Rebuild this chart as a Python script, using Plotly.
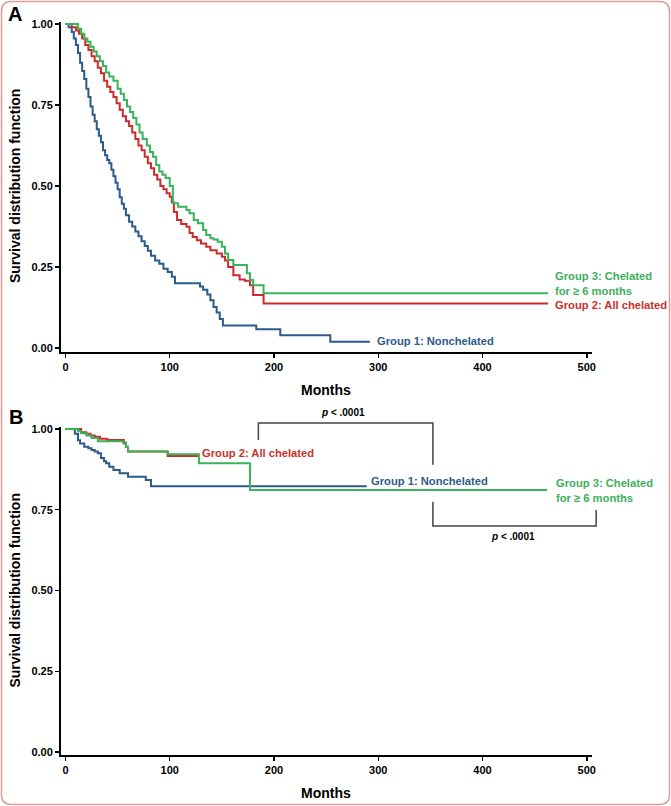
import plotly.graph_objects as go

# ---------------- data ----------------
# Panel A
a_blue_t = [0, 3, 6, 8, 10, 12, 14, 16, 18, 20, 22, 24, 26, 28, 30, 32, 34, 36, 38, 40, 42, 44, 46, 48, 50,
            52, 54, 56, 58, 61, 64, 67, 70, 73, 76, 79, 82, 86, 90, 94, 98, 102, 105, 129, 132, 136, 139,
            142, 145, 148, 151, 183, 206, 254, 292]
a_blue_s = [1.0, 0.99, 0.975, 0.955, 0.935, 0.91, 0.88, 0.855, 0.83, 0.80, 0.775, 0.745, 0.72, 0.70, 0.675,
            0.655, 0.635, 0.61, 0.595, 0.58, 0.57, 0.55, 0.53, 0.51, 0.49, 0.465, 0.445, 0.43, 0.41, 0.39,
            0.375, 0.36, 0.345, 0.33, 0.315, 0.30, 0.285, 0.27, 0.26, 0.245, 0.235, 0.22, 0.20, 0.19, 0.18,
            0.165, 0.148, 0.127, 0.11, 0.09, 0.07, 0.058, 0.04, 0.02, 0.02]

a_red_t = [0, 6, 10, 13, 16, 19, 22, 25, 28, 31, 34, 37, 40, 43, 46, 49, 52, 55, 58, 61, 64, 67, 70, 73, 76,
           79, 82, 85, 88, 91, 94, 97, 100, 102, 104, 107, 111, 116, 119, 122, 126, 130, 135, 139, 145, 150,
           153, 156, 161, 167, 172, 177, 180, 190, 463]
a_red_s = [1.0, 0.99, 0.98, 0.97, 0.955, 0.935, 0.92, 0.90, 0.885, 0.865, 0.848, 0.825, 0.806, 0.79, 0.775,
           0.755, 0.735, 0.715, 0.70, 0.685, 0.665, 0.645, 0.625, 0.61, 0.59, 0.57, 0.555, 0.535, 0.52, 0.50,
           0.49, 0.478, 0.467, 0.45, 0.42, 0.395, 0.383, 0.374, 0.355, 0.343, 0.333, 0.323, 0.313, 0.302,
           0.292, 0.282, 0.27, 0.25, 0.225, 0.212, 0.208, 0.194, 0.164, 0.138, 0.138]

a_green_t = [0, 12, 15, 18, 21, 24, 27, 30, 33, 36, 39, 42, 46, 50, 53, 56, 59, 62, 65, 68, 71, 74, 78, 81,
             84, 87, 90, 93, 96, 100, 103, 108, 116, 119, 123, 127, 132, 135, 139, 142, 146, 150, 153, 156,
             161, 174, 177, 180, 190, 463]
a_green_s = [1.0, 0.985, 0.97, 0.955, 0.945, 0.93, 0.915, 0.90, 0.885, 0.87, 0.85, 0.838, 0.825, 0.80, 0.785,
             0.765, 0.745, 0.728, 0.71, 0.69, 0.665, 0.645, 0.625, 0.605, 0.59, 0.565, 0.545, 0.535, 0.525,
             0.50, 0.447, 0.436, 0.426, 0.416, 0.395, 0.385, 0.364, 0.349, 0.339, 0.335, 0.328, 0.313, 0.292,
             0.272, 0.256, 0.231, 0.21, 0.194, 0.169, 0.169]

# Panel B
b_blue_t = [0, 9, 12, 14, 18, 22, 25, 28, 31, 34, 37, 39, 42, 46, 52, 60, 77, 82, 289]
b_blue_s = [1.0, 0.985, 0.965, 0.955, 0.945, 0.94, 0.935, 0.93, 0.925, 0.91, 0.90, 0.894, 0.883, 0.873,
            0.863, 0.852, 0.842, 0.823, 0.823]

b_red_t = [0, 15, 20, 24, 28, 33, 40, 56, 58, 60, 98, 127]
b_red_s = [1.0, 0.99, 0.985, 0.98, 0.976, 0.97, 0.966, 0.955, 0.945, 0.93, 0.916, 0.916]

b_green_t = [0, 12, 15, 20, 25, 31, 55, 58, 60, 98, 128, 177, 462]
b_green_s = [1.0, 0.993, 0.987, 0.98, 0.972, 0.962, 0.958, 0.945, 0.93, 0.922, 0.894, 0.811, 0.811]

x_ticks = [0, 100, 200, 300, 400, 500]
y_ticks = [0.0, 0.25, 0.5, 0.75, 1.0]

for t, s in [(a_blue_t, a_blue_s), (a_red_t, a_red_s), (a_green_t, a_green_s),
             (b_blue_t, b_blue_s), (b_red_t, b_red_s), (b_green_t, b_green_s)]:
    assert len(t) == len(s)

# ---------------- style ----------------
BLUE, RED, GREEN = "#2c5a8c", "#cc2b2b", "#3ab35a"
BLUE_T, RED_T, GREEN_T = "#2e5c8a", "#c9302c", "#3cb05a"
FONT = "Liberation Sans, Arial, Helvetica, sans-serif"
W, H = 671, 806
ML, MR, MT, MB = 61, 79, 22, 51
XR = [-4.3, 505]
YRA = [-0.012, 1.006]
YRB = [-0.009, 1.006]

fig = go.Figure()

def add_curve(t, s, color, xa, ya):
    fig.add_trace(go.Scatter(x=t, y=s, mode="lines", line=dict(color=color, width=2, shape="hv"),
                             xaxis=xa, yaxis=ya, hoverinfo="skip"))

add_curve(a_blue_t, a_blue_s, BLUE, "x", "y")
add_curve(a_red_t, a_red_s, RED, "x", "y")
add_curve(a_green_t, a_green_s, GREEN, "x", "y")
add_curve(b_blue_t, b_blue_s, BLUE, "x2", "y2")
add_curve(b_red_t, b_red_s, RED, "x2", "y2")
add_curve(b_green_t, b_green_s, GREEN, "x2", "y2")

tickfont = dict(family=FONT, size=11, color="black", weight="bold")
xax = dict(range=XR, tickvals=x_ticks, showline=True, linewidth=2, linecolor="black", ticks="outside",
           ticklen=4, tickwidth=1.5, tickcolor="black", tickfont=tickfont, showgrid=False, zeroline=False,
           automargin=False, fixedrange=True)
yax = dict(tickvals=y_ticks, tickformat=".2f", showline=True, linewidth=2, linecolor="black",
           ticks="outside", ticklen=4, tickwidth=1.5, tickcolor="black", tickfont=tickfont,
           showgrid=False, zeroline=False, automargin=False, fixedrange=True)

plot_h = H - MT - MB
domA_bottom = (H - MB - 352) / plot_h
domB_top = (H - MB - 427) / plot_h

fig.update_layout(
    width=W, height=H, margin=dict(l=ML, r=MR, t=MT, b=MB),
    paper_bgcolor="white", plot_bgcolor="white", showlegend=False,
    xaxis=dict(xax, domain=[0, 1], anchor="y"),
    yaxis=dict(yax, domain=[domA_bottom, 1], range=YRA, anchor="x"),
    xaxis2=dict(xax, domain=[0, 1], anchor="y2"),
    yaxis2=dict(yax, domain=[0, domB_top], range=YRB, anchor="x2"),
)

def xd(m):
    return (m - XR[0]) / (XR[1] - XR[0])

def yd(s):
    return (s - YRB[0]) / (YRB[1] - YRB[0])

ann = []
lab = dict(family=FONT, size=11.2, weight="bold")
# axis titles and panel letters
for yr in ["y", "y2"]:
    ann.append(dict(text="Survival distribution function", xref="paper", x=0, xshift=-46, xanchor="center",
                    yref=yr, y=0.5, yanchor="middle", textangle=-90, showarrow=False,
                    font=dict(family=FONT, size=14, color="black", weight="bold")))
for xr, yr in [("x", "y domain"), ("x2", "y2 domain")]:
    ann.append(dict(text="Months", xref=xr, x=250, xanchor="center", yref=yr, y=0, yshift=-38,
                    yanchor="middle", showarrow=False,
                    font=dict(family=FONT, size=14, color="black", weight="bold")))
ann.append(dict(text="A", xref="paper", x=0, xshift=-46, xanchor="center", yref="y domain", y=1, yshift=8,
                yanchor="middle", showarrow=False, font=dict(family=FONT, size=20, color="black", weight="bold")))
ann.append(dict(text="B", xref="paper", x=0, xshift=-45, xanchor="center", yref="y2 domain", y=1, yshift=10,
                yanchor="middle", showarrow=False, font=dict(family=FONT, size=20, color="black", weight="bold")))

# group labels, panel A
ann.append(dict(text="Group 3: Chelated<br>for ≥ 6 months", xref="x", yref="y", x=468, y=0.199, xanchor="left",
                yanchor="middle", align="left", showarrow=False, font=dict(lab, color=GREEN_T)))
ann.append(dict(text="Group 2: All chelated", xref="x", yref="y", x=468, y=0.133, xanchor="left",
                yanchor="middle", showarrow=False, font=dict(lab, color=RED_T)))
ann.append(dict(text="Group 1: Nonchelated", xref="x", yref="y", x=297, y=0.022, xanchor="left",
                yanchor="middle", showarrow=False, font=dict(lab, color=BLUE_T)))
# group labels, panel B
ann.append(dict(text="Group 2: All chelated", xref="x2", yref="y2", x=129, y=0.926, xanchor="left",
                yanchor="middle", showarrow=False, font=dict(lab, color=RED_T)))
ann.append(dict(text="Group 1: Nonchelated", xref="x2", yref="y2", x=291, y=0.84, xanchor="left",
                yanchor="middle", showarrow=False, font=dict(lab, color=BLUE_T)))
ann.append(dict(text="Group 3: Chelated<br>for ≥ 6 months", xref="x2", yref="y2", x=469, y=0.808, xanchor="left",
                yanchor="middle", align="left", showarrow=False, font=dict(lab, color=GREEN_T)))
# p-values (domain refs so they are not hidden outside the axis range)
pf = dict(family=FONT, size=10, color="black", weight="bold")
ann.append(dict(text="<i>p</i> < .0001", xref="x2 domain", yref="y2 domain", x=xd(266), y=yd(1.05),
                xanchor="center", yanchor="middle", showarrow=False, font=pf))
ann.append(dict(text="<i>p</i> < .0001", xref="x2 domain", yref="y2 domain", x=xd(429), y=yd(0.666),
                xanchor="center", yanchor="middle", showarrow=False, font=pf))
fig.update_layout(annotations=ann)

# brackets
shapes = []
br = dict(color="#444444", width=1.5)
p1 = f"M {xd(185)},{yd(0.966)} L {xd(185)},{yd(1.018)} L {xd(352.4)},{yd(1.018)} L {xd(352.4)},{yd(0.889)}"
p2 = f"M {xd(352.4)},{yd(0.775)} L {xd(352.4)},{yd(0.700)} L {xd(509)},{yd(0.700)} L {xd(509)},{yd(0.749)}"
for p in (p1, p2):
    shapes.append(dict(type="path", path=p, xref="x2 domain", yref="y2 domain", line=br, layer="above"))

# rounded outer border (figure pixels -> paper coordinates)
pw, ph = W - ML - MR, H - MT - MB
def px(v):
    return (v - ML) / pw
def py(v):
    return (H - MB - v) / ph
x0, x1, y0, y1, r = 1.5, W - 1.5, 1.5, H - 1.5, 10
path = (f"M {px(x0 + r)},{py(y0)} L {px(x1 - r)},{py(y0)} Q {px(x1)},{py(y0)} {px(x1)},{py(y0 + r)} "
        f"L {px(x1)},{py(y1 - r)} Q {px(x1)},{py(y1)} {px(x1 - r)},{py(y1)} "
        f"L {px(x0 + r)},{py(y1)} Q {px(x0)},{py(y1)} {px(x0)},{py(y1 - r)} "
        f"L {px(x0)},{py(y0 + r)} Q {px(x0)},{py(y0)} {px(x0 + r)},{py(y0)} Z")
shapes.append(dict(type="path", path=path, xref="paper", yref="paper", line=dict(color="#e09a9a", width=1.5),
                   layer="below"))
fig.update_layout(shapes=shapes)

fig.write_html("out.html", config={"displayModeBar": False, "staticPlot": True},
               post_script="document.body.style.margin='0';document.body.style.overflow='hidden';")
